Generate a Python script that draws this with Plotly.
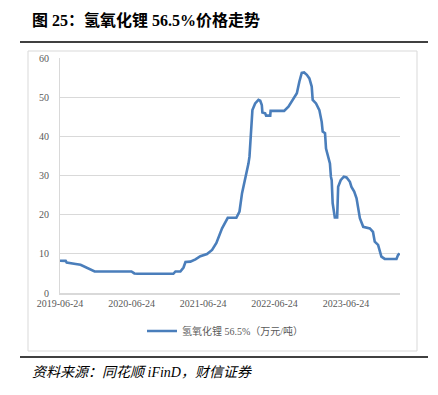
import plotly.graph_objects as go

dates = [
    "2019-06-24", "2019-07-23", "2019-07-28", "2019-08-17", "2019-09-12", "2019-10-07",
    "2019-11-02", "2019-11-17", "2019-12-18", "2020-06-23", "2020-07-08", "2020-07-24",
    "2021-01-23", "2021-02-03", "2021-02-28", "2021-03-16", "2021-03-26", "2021-04-20",
    "2021-05-16", "2021-06-10", "2021-07-14", "2021-08-09", "2021-08-31", "2021-09-29",
    "2021-10-24", "2021-10-28", "2021-12-11", "2021-12-27", "2022-01-09", "2022-01-20",
    "2022-01-25", "2022-02-06", "2022-02-11", "2022-02-16", "2022-02-23", "2022-02-28",
    "2022-03-03", "2022-03-17", "2022-04-03", "2022-04-12", "2022-04-20", "2022-04-23",
    "2022-05-07", "2022-05-12", "2022-06-02", "2022-06-04", "2022-08-12", "2022-09-03",
    "2022-09-28", "2022-10-16", "2022-10-29", "2022-11-10", "2022-11-22", "2022-12-06",
    "2022-12-19", "2022-12-31", "2023-01-05", "2023-01-22", "2023-02-08", "2023-02-20",
    "2023-02-25", "2023-03-09", "2023-03-14", "2023-03-25", "2023-04-03", "2023-04-08",
    "2023-04-12", "2023-04-17", "2023-04-23", "2023-04-28", "2023-05-10", "2023-05-15",
    "2023-05-28", "2023-06-13", "2023-06-27", "2023-07-14", "2023-07-22", "2023-08-05",
    "2023-08-17", "2023-08-25", "2023-09-03", "2023-09-20", "2023-10-24", "2023-11-09",
    "2023-11-18", "2023-12-05", "2023-12-14", "2023-12-22", "2024-01-08", "2024-03-08",
    "2024-03-16", "2024-03-24",
]
prices = [
    8.25, 8.2, 7.8, 7.7, 7.4, 7.2,
    6.6, 6.3, 5.5, 5.5, 5.0, 4.9,
    4.9, 5.5, 5.5, 6.5, 7.9, 8.0,
    8.6, 9.4, 9.95, 11.0, 12.8, 16.5,
    18.8, 19.2, 19.2, 20.8, 25.5, 28.0,
    29.3, 31.5, 33.1, 34.8, 39.9, 43.3,
    46.7, 48.4, 49.3, 49.1, 48.0, 46.1,
    45.9, 45.3, 45.3, 46.5, 46.5, 47.6,
    49.7, 51.0, 54.0, 56.2, 56.3, 55.7,
    54.8, 52.7, 49.3, 48.4, 46.7, 43.7,
    41.2, 40.8, 36.9, 34.8, 33.1, 29.7,
    28.8, 22.9, 21.2, 19.3, 19.3, 27.1,
    28.8, 29.7, 29.5, 28.4, 27.1, 25.9,
    24.2, 21.2, 19.1, 16.9, 16.5, 15.6,
    13.1, 12.3, 11.0, 9.3, 8.7, 8.7,
    9.7, 10.1,
]
tick_dates = ["2019-06-24", "2020-06-24", "2021-06-24", "2022-06-24", "2023-06-24"]
y_ticks = [0, 10, 20, 30, 40, 50, 60]

series_name = "氢氧化锂 56.5%（万元/吨）"
title_text = "图 25：氢氧化锂 56.5%价格走势"
source_text = "资料来源：同花顺 iFinD，财信证券"

W, H = 438, 395
L, R, T, B = 60, 38, 58, 102
pw, ph = W - L - R, H - T - B

def px(x):
    return (x - L) / pw

def py(y):
    return (H - B - y) / ph

serif = "Liberation Serif, Noto Sans CJK SC, serif"

fig = go.Figure()
fig.add_trace(go.Scatter(
    x=dates, y=prices, mode="lines", name=series_name,
    line=dict(color="#4a7ebb", width=2.6),
))

fig.update_layout(
    width=W, height=H,
    margin=dict(l=L, r=R, t=T, b=B),
    paper_bgcolor="white", plot_bgcolor="white",
    showlegend=True,
    legend=dict(
        orientation="h", x=px(142), xanchor="left", y=py(331), yanchor="middle",
        font=dict(family=serif, size=10, color="#595959"),
        bgcolor="rgba(0,0,0,0)",
    ),
    xaxis=dict(
        type="date", range=["2019-06-24", "2024-03-26"],
        tickvals=tick_dates, ticktext=tick_dates,
        showgrid=False, showline=True, linecolor="#d9d9d9", linewidth=1.5,
        ticks="", tickfont=dict(family=serif, size=10, color="#595959"),
        zeroline=False,
    ),
    yaxis=dict(
        range=[0, 60], tickvals=y_ticks,
        showgrid=True, gridcolor="#d9d9d9", gridwidth=1,
        showline=True, linecolor="#d9d9d9", linewidth=1,
        ticks="", ticklabelstandoff=8,
        tickfont=dict(family=serif, size=10, color="#595959"),
        zeroline=False,
    ),
    shapes=[
        dict(type="rect", xref="paper", yref="paper",
             x0=px(28), x1=px(417), y0=py(351), y1=py(51),
             line=dict(color="#d9d9d9", width=1), layer="below"),
        dict(type="line", xref="paper", yref="paper",
             x0=px(20), x1=px(428), y0=py(42), y1=py(42),
             line=dict(color="#000000", width=1.5)),
        dict(type="line", xref="paper", yref="paper",
             x0=px(20), x1=px(428), y0=py(357), y1=py(357),
             line=dict(color="#000000", width=1.5)),
    ],
    annotations=[
        dict(text="<b>" + title_text + "</b>", xref="paper", yref="paper",
             x=px(30), y=py(20), xanchor="left", yanchor="middle", showarrow=False,
             font=dict(family=serif, size=16, color="#000000")),
        dict(text="<i>" + source_text + "</i>", xref="paper", yref="paper",
             x=px(30), y=py(372), xanchor="left", yanchor="middle", showarrow=False,
             font=dict(family=serif, size=14, color="#000000")),
    ],
)

fig.write_html(
    "out.html",
    config={"displayModeBar": False, "staticPlot": True},
    post_script="document.body.style.margin='0';document.body.style.overflow='hidden';",
)
